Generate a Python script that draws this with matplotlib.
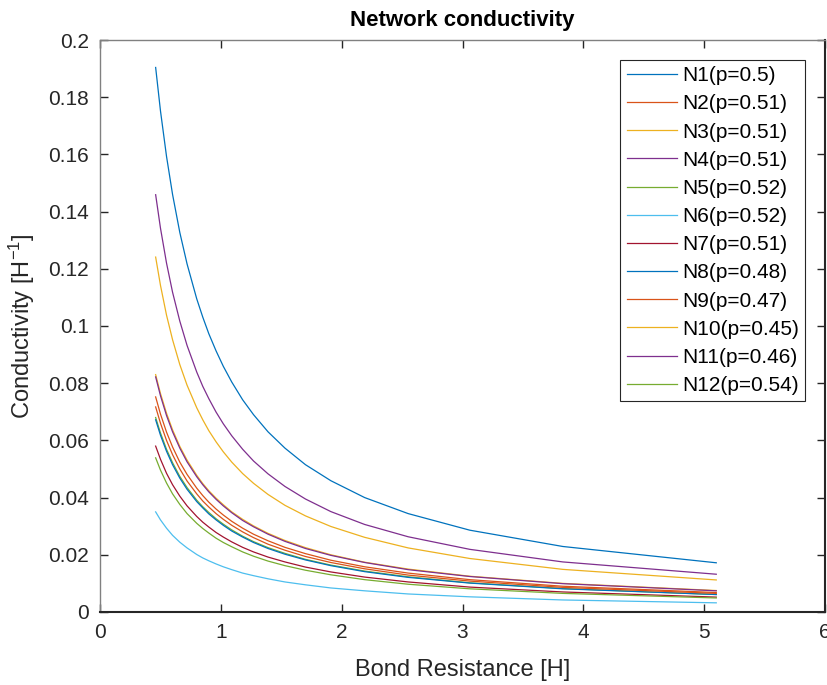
import matplotlib

matplotlib.use('Agg')

import matplotlib.pyplot as plt
from matplotlib.ticker import FuncFormatter

# Bond resistance samples [H]
resistance = [0.46, 0.50, 0.55, 0.60, 0.66, 0.72, 0.80, 0.85, 0.90, 0.96,
              1.02, 1.09, 1.18, 1.27, 1.39, 1.53, 1.70, 1.91, 2.19, 2.55,
              3.06, 3.83, 5.10]

# Network conductivity [1/H] per network
n1 = [0.1904, 0.1752, 0.1593, 0.1460, 0.1327, 0.1217, 0.1095, 0.1031, 0.0973,
      0.0913, 0.0859, 0.0804, 0.0742, 0.0690, 0.0630, 0.0573, 0.0515, 0.0459,
      0.0400, 0.0344, 0.0286, 0.0229, 0.0172]
n2 = [0.0752, 0.0692, 0.0629, 0.0577, 0.0524, 0.0481, 0.0433, 0.0407, 0.0384,
      0.0360, 0.0339, 0.0317, 0.0293, 0.0272, 0.0249, 0.0226, 0.0204, 0.0181,
      0.0158, 0.0136, 0.0113, 0.0090, 0.0068]
n3 = [0.0830, 0.0764, 0.0695, 0.0637, 0.0579, 0.0531, 0.0478, 0.0449, 0.0424,
      0.0398, 0.0375, 0.0350, 0.0324, 0.0301, 0.0275, 0.0250, 0.0225, 0.0200,
      0.0174, 0.0150, 0.0125, 0.0100, 0.0075]
n4 = [0.0822, 0.0756, 0.0687, 0.0630, 0.0573, 0.0525, 0.0473, 0.0445, 0.0420,
      0.0394, 0.0371, 0.0347, 0.0320, 0.0298, 0.0272, 0.0247, 0.0222, 0.0198,
      0.0173, 0.0148, 0.0124, 0.0099, 0.0074]
n5 = [0.0680, 0.0626, 0.0569, 0.0522, 0.0474, 0.0435, 0.0391, 0.0368, 0.0348,
      0.0326, 0.0307, 0.0287, 0.0265, 0.0246, 0.0225, 0.0205, 0.0184, 0.0164,
      0.0143, 0.0123, 0.0102, 0.0082, 0.0061]
n6 = [0.0350, 0.0322, 0.0293, 0.0268, 0.0244, 0.0224, 0.0201, 0.0189, 0.0179,
      0.0168, 0.0158, 0.0148, 0.0136, 0.0127, 0.0116, 0.0105, 0.0095, 0.0084,
      0.0074, 0.0063, 0.0053, 0.0042, 0.0032]
n7 = [0.0580, 0.0534, 0.0485, 0.0445, 0.0405, 0.0371, 0.0334, 0.0314, 0.0297,
      0.0278, 0.0262, 0.0245, 0.0226, 0.0210, 0.0192, 0.0175, 0.0157, 0.0140,
      0.0122, 0.0105, 0.0087, 0.0070, 0.0052]
n8 = [0.0672, 0.0618, 0.0562, 0.0515, 0.0468, 0.0429, 0.0386, 0.0364, 0.0343,
      0.0322, 0.0303, 0.0283, 0.0262, 0.0243, 0.0222, 0.0202, 0.0182, 0.0162,
      0.0141, 0.0121, 0.0101, 0.0081, 0.0061]
n9 = [0.0717, 0.0660, 0.0600, 0.0550, 0.0500, 0.0458, 0.0413, 0.0388, 0.0367,
      0.0344, 0.0324, 0.0303, 0.0280, 0.0260, 0.0237, 0.0216, 0.0194, 0.0173,
      0.0151, 0.0129, 0.0108, 0.0086, 0.0065]
n10 = [0.1241, 0.1142, 0.1038, 0.0952, 0.0865, 0.0793, 0.0714, 0.0672, 0.0634,
       0.0595, 0.0560, 0.0524, 0.0484, 0.0450, 0.0411, 0.0373, 0.0336, 0.0299,
       0.0261, 0.0224, 0.0187, 0.0149, 0.0112]
n11 = [0.1459, 0.1342, 0.1220, 0.1118, 0.1017, 0.0932, 0.0839, 0.0789, 0.0746,
       0.0699, 0.0658, 0.0616, 0.0569, 0.0528, 0.0483, 0.0439, 0.0395, 0.0351,
       0.0306, 0.0263, 0.0219, 0.0175, 0.0132]
n12 = [0.0539, 0.0496, 0.0451, 0.0413, 0.0376, 0.0344, 0.0310, 0.0292, 0.0276,
       0.0258, 0.0243, 0.0228, 0.0210, 0.0195, 0.0178, 0.0162, 0.0146, 0.0130,
       0.0113, 0.0097, 0.0081, 0.0065, 0.0049]

series = [n1, n2, n3, n4, n5, n6, n7, n8, n9, n10, n11, n12]
labels = ['N1(p=0.5)', 'N2(p=0.51)', 'N3(p=0.51)', 'N4(p=0.51)', 'N5(p=0.52)',
          'N6(p=0.52)', 'N7(p=0.51)', 'N8(p=0.48)', 'N9(p=0.47)',
          'N10(p=0.45)', 'N11(p=0.46)', 'N12(p=0.54)']

# MATLAB default line colour order
MATLAB_COLORS = ['#0072BD', '#D95319', '#EDB120', '#7E2F8E',
                 '#77AC30', '#4DBEEE', '#A2142F']

AX_COLOR = '#262626'

plt.rcParams.update({
    'font.family': ['Liberation Sans', 'DejaVu Sans'],
    'mathtext.fontset': 'custom',
    'mathtext.rm': 'Liberation Sans',
    'mathtext.it': 'Liberation Sans',
})

fig = plt.figure(figsize=(8.27, 6.85), dpi=100)
ax = fig.add_axes([0.121, 0.1066, 0.8766, 0.835])

for i, (y, lab) in enumerate(zip(series, labels)):
    ax.plot(resistance, y, color=MATLAB_COLORS[i % 7], linewidth=0.9, label=lab)

ax.set_xlim(0, 6)
ax.set_ylim(0, 0.2)
ax.set_xticks(range(0, 7))
ax.set_yticks([i * 0.02 for i in range(11)])
ax.yaxis.set_major_formatter(FuncFormatter(lambda v, _: f'{v:g}'))

ax.tick_params(direction='in', length=6, width=1.0, colors=AX_COLOR,
               labelsize=15, top=True, right=True, pad=8)
for side in ['left', 'top']:
    ax.spines[side].set_color('#808080')
    ax.spines[side].set_linewidth(1.0)
for side in ['bottom', 'right']:
    ax.spines[side].set_color(AX_COLOR)
    ax.spines[side].set_linewidth(1.5)

ax.set_xlabel('Bond Resistance [H]', fontsize=17, color=AX_COLOR, labelpad=12)
ax.set_ylabel(r'Conductivity [H$^{\mathregular{-1}}$]', fontsize=17,
              color=AX_COLOR, labelpad=8)
ax.set_title('Network conductivity', fontsize=16, fontweight='bold',
             color='black', pad=10)

leg = ax.legend(loc='upper right', bbox_to_anchor=(0.9724, 0.965),
                fontsize=15, frameon=True, fancybox=False, framealpha=1,
                handlelength=2.4, handletextpad=0.25, labelspacing=0.44,
                borderpad=0.3, borderaxespad=0)
leg.get_frame().set_edgecolor(AX_COLOR)
leg.get_frame().set_linewidth(0.8)

fig.savefig('out.png', dpi=100, facecolor='white')
